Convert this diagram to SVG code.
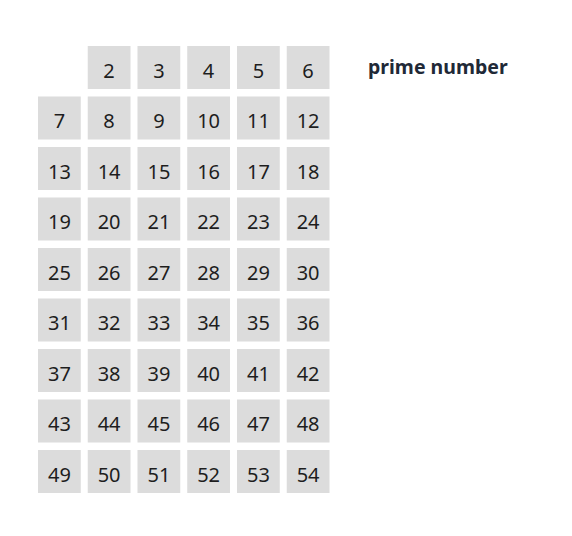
<svg xmlns="http://www.w3.org/2000/svg" width="572" height="536" viewBox="0 0 572 536">
<style>
.box{fill:#dcdcdc}
.c text{font-family:"Noto Sans","DejaVu Sans",sans-serif;font-size:20px;fill:#1e1e1e;text-anchor:middle}
.lbl{font-family:"Noto Sans","DejaVu Sans",sans-serif;font-size:19.5px;font-weight:bold;fill:#1f2937}
</style>
<rect width="572" height="536" fill="#fff"/>
<defs><rect id="b" class="box" width="42.75" height="43" fill="#dcdcdc"/></defs>
<g class="c" id="cells">
<g id="n2"><use href="#b" x="87.75" y="46"/><text x="109.1" y="77.6">2</text></g>
<g id="n3"><use href="#b" x="137.5" y="46"/><text x="158.9" y="77.6">3</text></g>
<g id="n4"><use href="#b" x="187.25" y="46"/><text x="208.6" y="77.6">4</text></g>
<g id="n5"><use href="#b" x="237" y="46"/><text x="258.4" y="77.6">5</text></g>
<g id="n6"><use href="#b" x="286.75" y="46"/><text x="308.1" y="77.6">6</text></g>
<g id="n7"><use href="#b" x="38" y="96.5"/><text x="59.4" y="128.1">7</text></g>
<g id="n8"><use href="#b" x="87.75" y="96.5"/><text x="109.1" y="128.1">8</text></g>
<g id="n9"><use href="#b" x="137.5" y="96.5"/><text x="158.9" y="128.1">9</text></g>
<g id="n10"><use href="#b" x="187.25" y="96.5"/><text x="208.6" y="128.1">10</text></g>
<g id="n11"><use href="#b" x="237" y="96.5"/><text x="258.4" y="128.1">11</text></g>
<g id="n12"><use href="#b" x="286.75" y="96.5"/><text x="308.1" y="128.1">12</text></g>
<g id="n13"><use href="#b" x="38" y="147"/><text x="59.4" y="178.6">13</text></g>
<g id="n14"><use href="#b" x="87.75" y="147"/><text x="109.1" y="178.6">14</text></g>
<g id="n15"><use href="#b" x="137.5" y="147"/><text x="158.9" y="178.6">15</text></g>
<g id="n16"><use href="#b" x="187.25" y="147"/><text x="208.6" y="178.6">16</text></g>
<g id="n17"><use href="#b" x="237" y="147"/><text x="258.4" y="178.6">17</text></g>
<g id="n18"><use href="#b" x="286.75" y="147"/><text x="308.1" y="178.6">18</text></g>
<g id="n19"><use href="#b" x="38" y="197.5"/><text x="59.4" y="229.1">19</text></g>
<g id="n20"><use href="#b" x="87.75" y="197.5"/><text x="109.1" y="229.1">20</text></g>
<g id="n21"><use href="#b" x="137.5" y="197.5"/><text x="158.9" y="229.1">21</text></g>
<g id="n22"><use href="#b" x="187.25" y="197.5"/><text x="208.6" y="229.1">22</text></g>
<g id="n23"><use href="#b" x="237" y="197.5"/><text x="258.4" y="229.1">23</text></g>
<g id="n24"><use href="#b" x="286.75" y="197.5"/><text x="308.1" y="229.1">24</text></g>
<g id="n25"><use href="#b" x="38" y="248"/><text x="59.4" y="279.6">25</text></g>
<g id="n26"><use href="#b" x="87.75" y="248"/><text x="109.1" y="279.6">26</text></g>
<g id="n27"><use href="#b" x="137.5" y="248"/><text x="158.9" y="279.6">27</text></g>
<g id="n28"><use href="#b" x="187.25" y="248"/><text x="208.6" y="279.6">28</text></g>
<g id="n29"><use href="#b" x="237" y="248"/><text x="258.4" y="279.6">29</text></g>
<g id="n30"><use href="#b" x="286.75" y="248"/><text x="308.1" y="279.6">30</text></g>
<g id="n31"><use href="#b" x="38" y="298.5"/><text x="59.4" y="330.1">31</text></g>
<g id="n32"><use href="#b" x="87.75" y="298.5"/><text x="109.1" y="330.1">32</text></g>
<g id="n33"><use href="#b" x="137.5" y="298.5"/><text x="158.9" y="330.1">33</text></g>
<g id="n34"><use href="#b" x="187.25" y="298.5"/><text x="208.6" y="330.1">34</text></g>
<g id="n35"><use href="#b" x="237" y="298.5"/><text x="258.4" y="330.1">35</text></g>
<g id="n36"><use href="#b" x="286.75" y="298.5"/><text x="308.1" y="330.1">36</text></g>
<g id="n37"><use href="#b" x="38" y="349"/><text x="59.4" y="380.6">37</text></g>
<g id="n38"><use href="#b" x="87.75" y="349"/><text x="109.1" y="380.6">38</text></g>
<g id="n39"><use href="#b" x="137.5" y="349"/><text x="158.9" y="380.6">39</text></g>
<g id="n40"><use href="#b" x="187.25" y="349"/><text x="208.6" y="380.6">40</text></g>
<g id="n41"><use href="#b" x="237" y="349"/><text x="258.4" y="380.6">41</text></g>
<g id="n42"><use href="#b" x="286.75" y="349"/><text x="308.1" y="380.6">42</text></g>
<g id="n43"><use href="#b" x="38" y="399.5"/><text x="59.4" y="431.1">43</text></g>
<g id="n44"><use href="#b" x="87.75" y="399.5"/><text x="109.1" y="431.1">44</text></g>
<g id="n45"><use href="#b" x="137.5" y="399.5"/><text x="158.9" y="431.1">45</text></g>
<g id="n46"><use href="#b" x="187.25" y="399.5"/><text x="208.6" y="431.1">46</text></g>
<g id="n47"><use href="#b" x="237" y="399.5"/><text x="258.4" y="431.1">47</text></g>
<g id="n48"><use href="#b" x="286.75" y="399.5"/><text x="308.1" y="431.1">48</text></g>
<g id="n49"><use href="#b" x="38" y="450"/><text x="59.4" y="481.6">49</text></g>
<g id="n50"><use href="#b" x="87.75" y="450"/><text x="109.1" y="481.6">50</text></g>
<g id="n51"><use href="#b" x="137.5" y="450"/><text x="158.9" y="481.6">51</text></g>
<g id="n52"><use href="#b" x="187.25" y="450"/><text x="208.6" y="481.6">52</text></g>
<g id="n53"><use href="#b" x="237" y="450"/><text x="258.4" y="481.6">53</text></g>
<g id="n54"><use href="#b" x="286.75" y="450"/><text x="308.1" y="481.6">54</text></g>
</g>
<g id="connectors"/>
<g id="legend"><text class="lbl" x="368" y="73.5">prime number</text></g>
</svg>
